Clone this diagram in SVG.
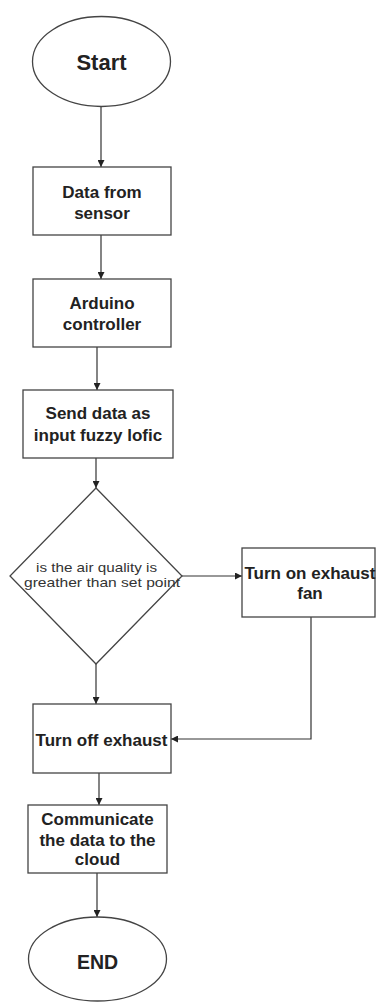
<svg xmlns="http://www.w3.org/2000/svg" width="376" height="1003" viewBox="0 0 376 1003">
<defs>
<style>
.shape{fill:#ffffff;stroke:#444444;stroke-width:1.3}
.edge{fill:none;stroke:#333333;stroke-width:1.2}
.t{font-family:"Liberation Sans",Arial,sans-serif;font-weight:bold;font-size:17px;fill:#222222;text-anchor:middle}
.big{font-size:22px}
.end{font-size:19.5px}
.d{font-family:"Liberation Sans",Arial,sans-serif;font-size:13px;fill:#333333;text-anchor:middle}
</style>
<marker id="arr" viewBox="0 0 10 10" refX="10" refY="5" markerWidth="7" markerHeight="7" markerUnits="userSpaceOnUse" orient="auto">
<path d="M0,0 L10,5 L0,10 z" fill="#222222"/>
</marker>
</defs>
<rect width="376" height="1003" fill="#ffffff"/>
<g id="connectors">
<path class="edge" d="M101,107 L101,167" marker-end="url(#arr)"/>
<path class="edge" d="M101,235 L101,279" marker-end="url(#arr)"/>
<path class="edge" d="M97,347 L97,390" marker-end="url(#arr)"/>
<path class="edge" d="M96,458 L96,488" marker-end="url(#arr)"/>
<path class="edge" d="M182,576 L242,576" marker-end="url(#arr)"/>
<path class="edge" d="M311,617 L311,739 L171,739" marker-end="url(#arr)"/>
<path class="edge" d="M96,664 L96,704" marker-end="url(#arr)"/>
<path class="edge" d="M99,773 L99,805" marker-end="url(#arr)"/>
<path class="edge" d="M97,873 L97,917" marker-end="url(#arr)"/>
</g>
<g id="start">
<ellipse class="shape" cx="101.5" cy="61.5" rx="69" ry="45"/>
<text class="t big" x="101.5" y="70">Start</text>
</g>
<g id="data-from-sensor">
<rect class="shape" x="33" y="167" width="138" height="68"/>
<text class="t" x="102" y="198">Data from</text>
<text class="t" x="102" y="219">sensor</text>
</g>
<g id="arduino">
<rect class="shape" x="33" y="279" width="138" height="68"/>
<text class="t" x="102" y="309">Arduino</text>
<text class="t" x="102" y="330">controller</text>
</g>
<g id="send-data">
<rect class="shape" x="23" y="390" width="150" height="68"/>
<text class="t" x="98" y="419">Send data as</text>
<text class="t" x="98" y="441">input fuzzy lofic</text>
</g>
<g id="decision">
<polygon class="shape" points="96,488 182,576 96,664 10,576"/>
<text class="d" x="96.5" y="572" textLength="121" lengthAdjust="spacingAndGlyphs">is the air quality is</text>
<text class="d" x="102" y="587" textLength="156" lengthAdjust="spacingAndGlyphs">greather than set point</text>
</g>
<g id="turn-on">
<rect class="shape" x="242" y="548" width="133" height="69"/>
<text class="t" x="310" y="579">Turn on exhaust</text>
<text class="t" x="310" y="599">fan</text>
</g>
<g id="turn-off">
<rect class="shape" x="33" y="704" width="138" height="69"/>
<text class="t" x="101.5" y="746">Turn off exhaust</text>
</g>
<g id="communicate">
<rect class="shape" x="28" y="805" width="139" height="68"/>
<text class="t" x="97.5" y="825">Communicate</text>
<text class="t" x="97.5" y="846">the data to the</text>
<text class="t" x="97.5" y="865">cloud</text>
</g>
<g id="end">
<ellipse class="shape" cx="97.5" cy="959" rx="69" ry="42"/>
<text class="t end" x="97.5" y="969">END</text>
</g>
</svg>
